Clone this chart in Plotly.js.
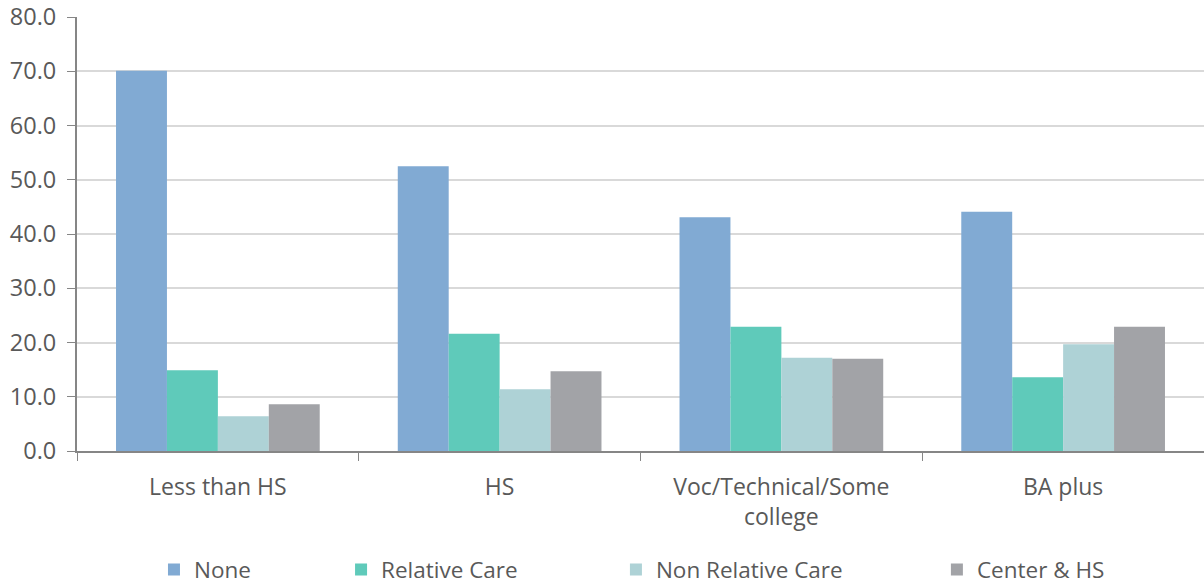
<!DOCTYPE html>
<html>
<head>
<meta charset="utf-8">
<script src="https://cdn.plot.ly/plotly-3.0.1.min.js"></script>
<style>html,body{margin:0;padding:0;background:#fff;}#chart{width:1204px;height:584px;}</style>
</head>
<body>
<div id="chart"></div>
<script>
var categories = ["Less than HS", "HS", "Voc/Technical/Some<br>college", "BA plus"];
var seriesNames = ["None", "Relative Care", "Non Relative Care", "Center & HS"];
var noneVals = [70.1, 52.5, 43.1, 44.1];
var relativeVals = [14.9, 21.6, 22.9, 13.6];
var nonRelativeVals = [6.4, 11.4, 17.2, 19.7];
var centerVals = [8.6, 14.7, 17.0, 22.9];
var colors = ["#81AAD3", "#5FCABA", "#AED2D6", "#A2A3A7"];
var yTicks = [0, 10, 20, 30, 40, 50, 60, 70, 80];

var allVals = [noneVals, relativeVals, nonRelativeVals, centerVals];
var legendIds = ["legend", "legend2", "legend3", "legend4"];
var traces = allVals.map(function (v, i) {
  return {
    type: "bar",
    name: seriesNames[i],
    x: categories,
    y: v,
    marker: { color: colors[i], line: { width: 0 } },
    legend: legendIds[i],
    hoverinfo: "y+name"
  };
});

var legendFont = { family: "Open Sans, sans-serif", size: 22.5, color: "#595959" };
var legendX = [0.0683, 0.2343, 0.4782, 0.7630];
function mkLegend(x) {
  return { x: x, y: 0.024, xref: "paper", yref: "container", xanchor: "left", yanchor: "middle",
           orientation: "h", font: legendFont, bgcolor: "rgba(0,0,0,0)", itemwidth: 30 };
}

var layout = {
  width: 1204,
  height: 584,
  margin: { l: 77, r: 0, t: 17, b: 133, autoexpand: false },
  paper_bgcolor: "#ffffff",
  plot_bgcolor: "#ffffff",
  barmode: "group",
  bargap: 0.277,
  bargroupgap: 0,
  showlegend: true,
  legend: mkLegend(legendX[0]),
  legend2: mkLegend(legendX[1]),
  legend3: mkLegend(legendX[2]),
  legend4: mkLegend(legendX[3]),
  font: { family: "Open Sans, sans-serif", color: "#595959" },
  xaxis: {
    automargin: false,
    showline: true, linecolor: "#868686", linewidth: 2,
    ticks: "outside", tickson: "boundaries", ticklen: 8, tickcolor: "#868686", tickwidth: 1,
    tickfont: { family: "Open Sans, sans-serif", size: 23, color: "#595959" },
    ticklabelstandoff: 14,
    showgrid: false, zeroline: false
  },
  yaxis: {
    automargin: false,
    range: [0, 80], tickvals: yTicks, tickformat: ".1f",
    showline: true, linecolor: "#868686", linewidth: 2,
    ticks: "outside", ticklen: 8, tickcolor: "#868686", tickwidth: 1,
    showgrid: true, gridcolor: "#D9D9D9", gridwidth: 2,
    zeroline: false,
    tickfont: { family: "Open Sans, sans-serif", size: 23.5, color: "#595959" },
    ticklabelstandoff: 6
  }
};

Plotly.newPlot("chart", traces, layout, { displayModeBar: false, staticPlot: true });
</script>
</body>
</html>
